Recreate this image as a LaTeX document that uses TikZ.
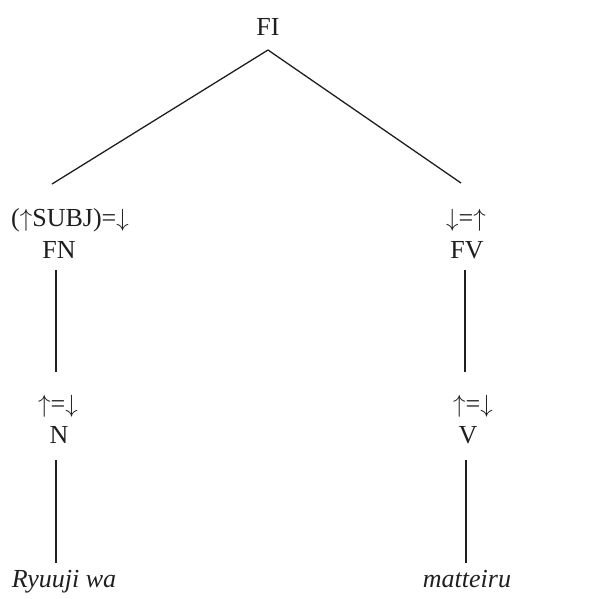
\documentclass[tikz,border=0pt]{standalone}
\usepackage{fontspec}
\setmainfont{Liberation Serif}
\newcommand{\upar}{\ensuremath{\uparrow}}
\newcommand{\dnar}{\ensuremath{\downarrow}}
\begin{document}
\begin{tikzpicture}[x=1pt,y=-1pt,
  lab/.style={inner sep=0pt,anchor=base,font=\fontsize{26}{31}\selectfont,text=black!88},
  edge/.style={draw=black!88,line width=1.3pt}]
\useasboundingbox (0,0) rectangle (607,598);
% nodes
\node[lab] (FI) at (268,35) {FI};
\node[lab] (subjann) at (70,226) {(\upar SUBJ)=\dnar};
\node[lab] (FN) at (59,258) {FN};
\node[lab] (headann) at (466,226) {\dnar=\upar};
\node[lab] (FV) at (467,258) {FV};
\node[lab] (Nann) at (58,412) {\upar=\dnar};
\node[lab] (N) at (59,443) {N};
\node[lab] (Vann) at (473,412) {\upar=\dnar};
\node[lab] (V) at (468,443) {V};
\node[lab,font=\fontsize{26}{31}\selectfont\itshape] (ryuuji) at (64,587) {Ryuuji wa};
\node[lab,font=\fontsize{26}{31}\selectfont\itshape] (matteiru) at (467,587) {matteiru};
% connector end points
\coordinate (FItop) at (268,50);
\coordinate (FNin) at (52,184);
\coordinate (FVin) at (461,183);
\coordinate (FNout) at (56,270);
\coordinate (Nin) at (56,372);
\coordinate (Nout) at (56,460);
\coordinate (ryuujiin) at (56,563);
\coordinate (FVout) at (465,270);
\coordinate (Vin) at (465,372);
\coordinate (Vout) at (466,460);
\coordinate (matteiruin) at (466,563);
% connectors
\draw[edge] (FItop) -- (FNin);
\draw[edge] (FItop) -- (FVin);
\draw[edge] (FNout) -- (Nin);
\draw[edge] (Nout) -- (ryuujiin);
\draw[edge] (FVout) -- (Vin);
\draw[edge] (Vout) -- (matteiruin);
\end{tikzpicture}
\end{document}
